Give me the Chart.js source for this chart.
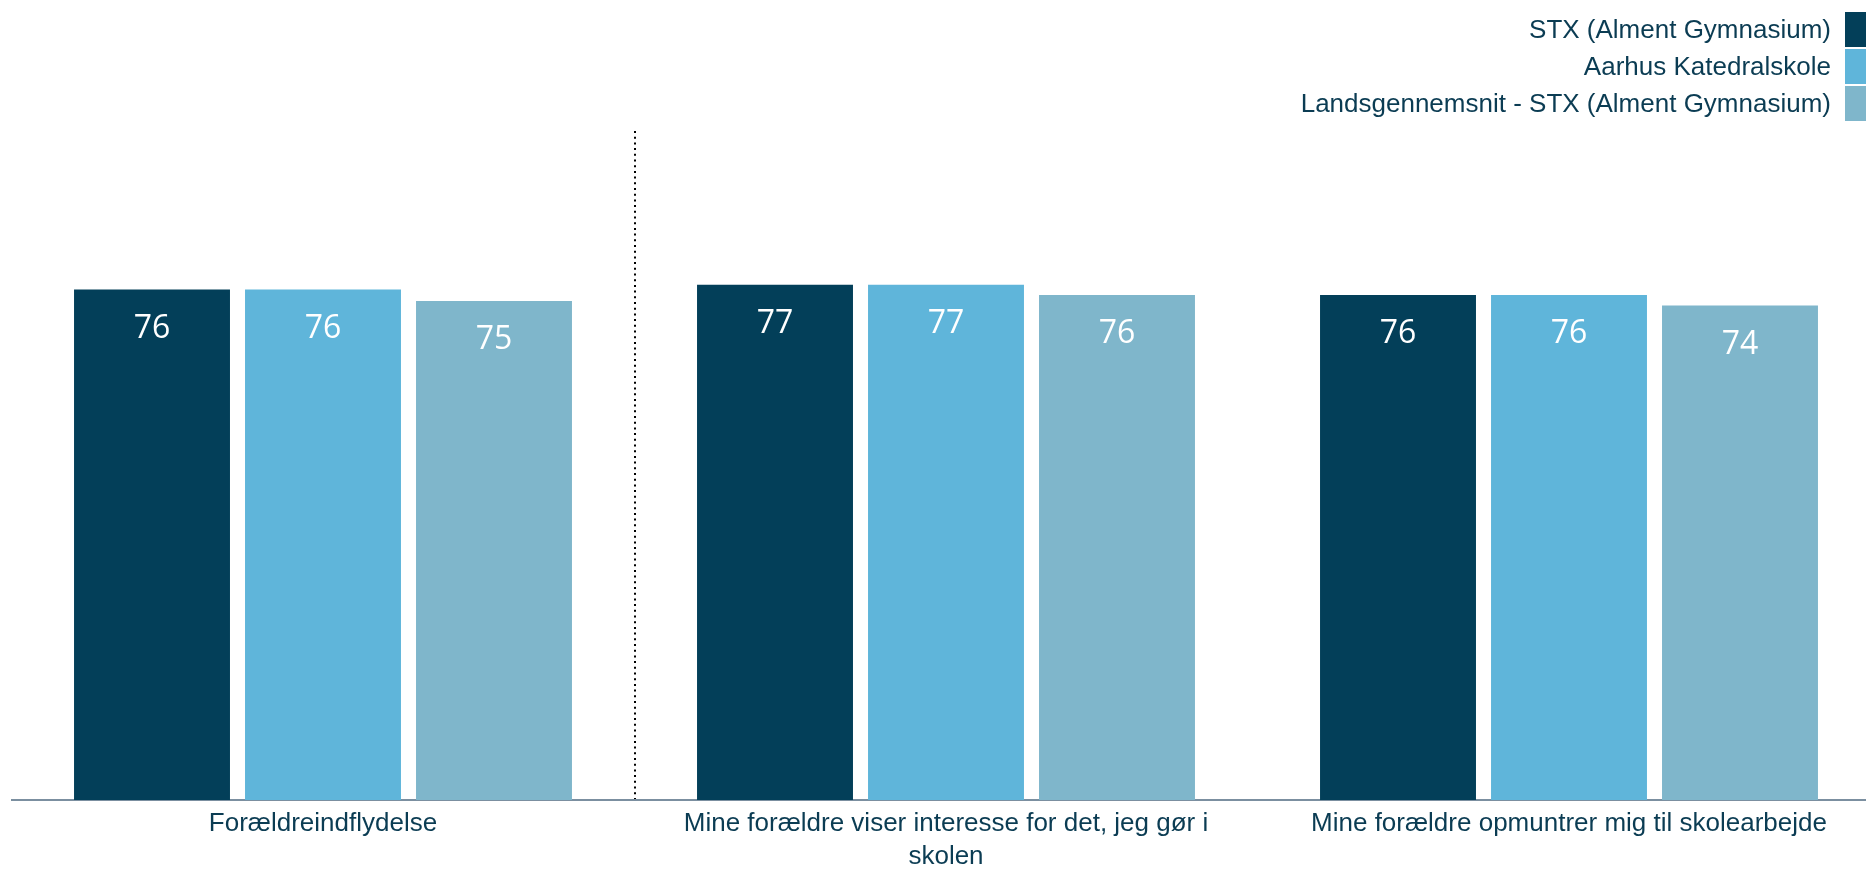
<!DOCTYPE html>
<html><head><meta charset="utf-8">
<script src="https://cdn.jsdelivr.net/npm/chart.js@4.4.1/dist/chart.umd.min.js"></script>
<style>
html,body{margin:0;padding:0;background:#fff;overflow:hidden;width:1866px;height:872px;}
#wrap{position:relative;width:1866px;height:872px;overflow:hidden;}
#c{position:absolute;left:0;top:0;}
#legend{position:absolute;right:0;top:12px;font-family:'Liberation Sans',Arial,sans-serif;font-size:26px;color:#0b3c53;}
.item{display:flex;justify-content:flex-end;align-items:center;height:35px;margin-bottom:2px;white-space:nowrap;}
.box{width:21px;height:35px;margin-left:14px;}
</style></head>
<body><div id="wrap"><canvas id="c" width="1892" height="880"></canvas><div id="legend"></div></div>
<script>
const categories = [
  'Forældreindflydelse',
  ['Mine forældre viser interesse for det, jeg gør i', 'skolen'],
  'Mine forældre opmuntrer mig til skolearbejde'
];
const seriesNames = ['STX (Alment Gymnasium)', 'Aarhus Katedralskole', 'Landsgennemsnit - STX (Alment Gymnasium)'];
const stxValues = [76.3, 77.0, 75.5];
const schoolValues = [76.3, 77.0, 75.5];
const nationalValues = [74.6, 75.5, 73.9];
const seriesColors = ['#033f59', '#5fb5da', '#7fb6cb'];

const seriesValues = [stxValues, schoolValues, nationalValues];

const valueLabels = {
  id: 'valueLabels',
  afterDatasetsDraw(chart) {
    const ctx = chart.ctx;
    ctx.save();
    ctx.fillStyle = '#ffffff';
    ctx.font = '32px "Open Sans", sans-serif';
    ctx.textAlign = 'center';
    ctx.textBaseline = 'alphabetic';
    chart.data.datasets.forEach((ds, i) => {
      chart.getDatasetMeta(i).data.forEach((bar, j) => {
        ctx.fillText(String(Math.round(ds.data[j])), bar.x, bar.y + 48);
      });
    });
    ctx.restore();
  }
};

const chart = new Chart(document.getElementById('c'), {
  type: 'bar',
  data: {
    labels: categories,
    datasets: seriesNames.map((name, i) => ({
      label: name,
      data: seriesValues[i],
      backgroundColor: seriesColors[i],
      borderWidth: 0,
      barPercentage: 0.912,
      categoryPercentage: 0.8234
    }))
  },
  options: {
    responsive: false,
    animation: false,
    layout: { padding: { left: 11.5, right: 11.5, top: 131, bottom: 0 } },
    plugins: { legend: { display: false }, tooltip: { enabled: false } },
    scales: {
      x: {
        grid: {
          display: true,
          drawTicks: false,
          offset: true,
          color: (c) => c.index === 1 ? '#000000' : 'rgba(0,0,0,0)',
          lineWidth: 2
        },
        border: { display: true, color: '#7b8fa0', width: 2, dash: [2, 3.7] },
        ticks: {
          color: '#0b3c53',
          font: { family: "'Liberation Sans', Arial, sans-serif", size: 26, lineHeight: 1.27 },
          padding: 7,
          maxRotation: 0,
          autoSkip: false
        }
      },
      y: { display: false, min: 0, max: 100 }
    }
  },
  plugins: [valueLabels]
});

const legend = document.getElementById('legend');
chart.data.datasets.forEach((ds) => {
  const item = document.createElement('div');
  item.className = 'item';
  const span = document.createElement('span');
  span.textContent = ds.label;
  const box = document.createElement('div');
  box.className = 'box';
  box.style.background = ds.backgroundColor;
  item.appendChild(span);
  item.appendChild(box);
  legend.appendChild(item);
});
</script>
</body></html>
